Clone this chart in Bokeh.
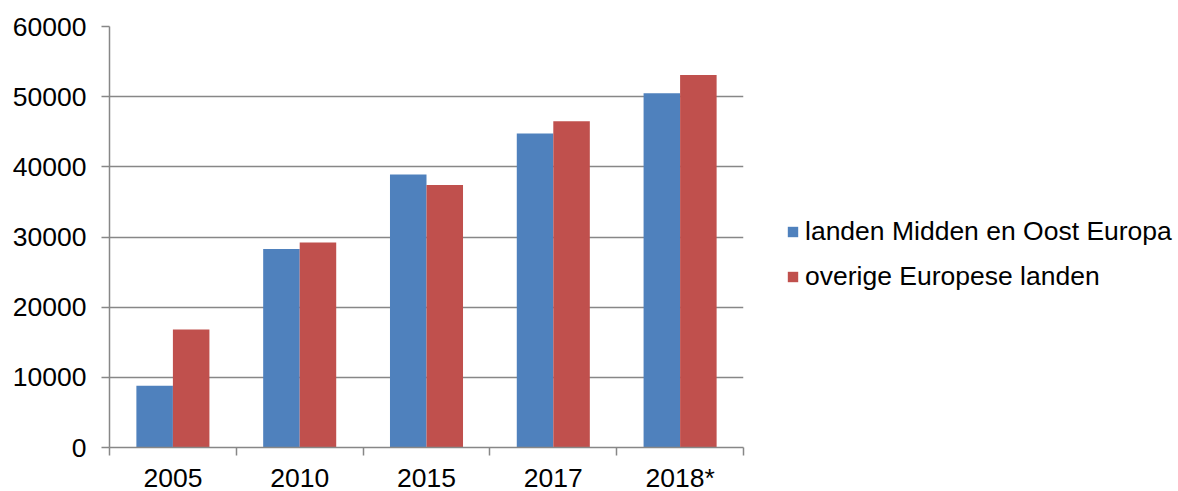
from bokeh.plotting import figure
from bokeh.models import ColumnDataSource, FixedTicker, Legend, LegendItem, Range1d
from bokeh.embed import file_html
from bokeh.resources import INLINE

years = ["2005", "2010", "2015", "2017", "2018*"]
midden_oost = [8800, 28300, 38900, 44750, 50500]
overige = [16800, 29200, 37400, 46500, 53100]
series_names = ["landen Midden en Oost Europa", "overige Europese landen"]
colors = ["#4F81BD", "#C0504D"]
y_ticks = [0, 10000, 20000, 30000, 40000, 50000, 60000]

FONT = "Liberation Sans"
AXIS_COLOR = "#878787"

centers = [i + 0.5 for i in range(len(years))]
bar_w = 0.288
src = ColumnDataSource(dict(
    x1=[c - bar_w / 2 for c in centers],
    x2=[c + bar_w / 2 for c in centers],
    a=midden_oost, b=overige))

p = figure(width=1170, height=483, output_backend="svg", toolbar_location=None,
           x_range=Range1d(0, len(years)), y_range=Range1d(0, 60000),
           min_border_left=109, min_border_top=26, min_border_bottom=36,
           min_border_right=427, frame_width=634, frame_height=421)
p.outline_line_color = None
p.background_fill_color = "white"

r1 = p.vbar(x="x1", top="a", width=bar_w, source=src, fill_color=colors[0], line_color=None)
r2 = p.vbar(x="x2", top="b", width=bar_w, source=src, fill_color=colors[1], line_color=None)

# x axis
p.xaxis.ticker = FixedTicker(ticks=centers, minor_ticks=list(range(len(years) + 1)))
p.xaxis.major_label_overrides = {c: y for c, y in zip(centers, years)}
p.xaxis.major_tick_line_color = None
p.xaxis.minor_tick_line_color = AXIS_COLOR
p.xaxis.minor_tick_line_width = 1.5
p.xaxis.minor_tick_in = 0
p.xaxis.minor_tick_out = 8
p.xaxis.major_label_standoff = 7
p.xaxis.axis_line_color = AXIS_COLOR
p.xaxis.axis_line_width = 1.5
p.xaxis.major_label_text_font = FONT
p.xaxis.major_label_text_font_size = "26.5px"
p.xaxis.major_label_text_color = "black"

# y axis
p.yaxis.ticker = FixedTicker(ticks=y_ticks, minor_ticks=[])
p.yaxis.major_label_overrides = {t: str(t) for t in y_ticks}
p.yaxis.axis_line_color = AXIS_COLOR
p.yaxis.axis_line_width = 1.5
p.yaxis.major_tick_line_color = AXIS_COLOR
p.yaxis.major_tick_line_width = 1.5
p.yaxis.major_tick_in = 0
p.yaxis.major_tick_out = 8
p.yaxis.major_label_standoff = 15
p.yaxis.major_label_text_font = FONT
p.yaxis.major_label_text_font_size = "26.5px"
p.yaxis.major_label_text_color = "black"

p.xgrid.grid_line_color = None
p.ygrid.ticker = FixedTicker(ticks=y_ticks)
p.ygrid.grid_line_color = AXIS_COLOR
p.ygrid.grid_line_width = 1.5

legend = Legend(items=[LegendItem(label=series_names[0], renderers=[r1]),
                       LegendItem(label=series_names[1], renderers=[r2])],
                location=(43, 155), border_line_color=None, background_fill_alpha=0,
                padding=0, margin=0, spacing=14, glyph_width=13, glyph_height=13,
                label_height=30, label_standoff=6,
                label_text_font=FONT, label_text_font_size="26.5px", label_text_color="black")
p.add_layout(legend, "right")

open("out.html", "w").write(file_html(p, INLINE))
